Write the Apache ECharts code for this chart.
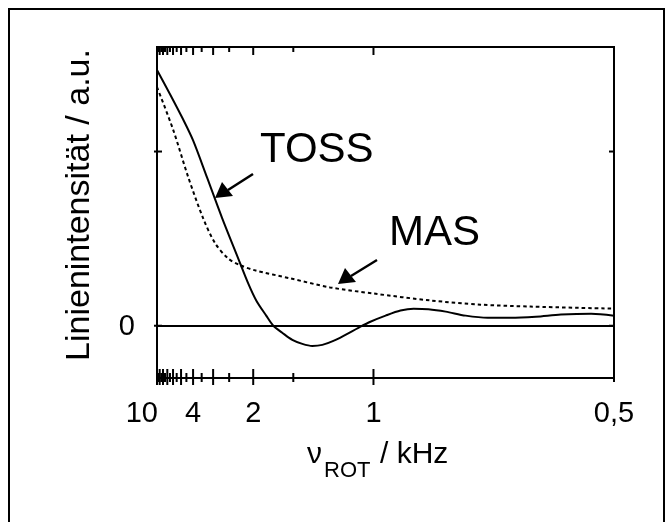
<!DOCTYPE html>
<html>
<head>
<meta charset="utf-8">
<script src="https://cdn.jsdelivr.net/npm/echarts@6/dist/echarts.min.js"></script>
<style>
  html, body { margin: 0; padding: 0; background: #fff; }
  #chart { width: 672px; height: 522px; }
</style>
</head>
<body>
<div id="chart"></div>
<script>
// Rotation frequency in kHz (plotted on a reciprocal scale) and line intensity
const tossNu = [10, 6.486, 4.8, 4.0, 3.243, 2.697, 2.286, 2.087, 1.951, 1.805, 1.714, 1.611, 1.509, 1.42, 1.341, 1.27, 1.2, 1.132, 1.067, 1.013, 0.952, 0.899, 0.857, 0.814, 0.769, 0.723, 0.678, 0.637, 0.597, 0.562, 0.525, 0.5];
const tossI  = [1.468, 1.329, 1.185, 1.064, 0.850, 0.618, 0.387, 0.243, 0.145, 0.058, 0.0, -0.040, -0.081, -0.104, -0.116, -0.110, -0.087, -0.052, -0.012, 0.023, 0.058, 0.087, 0.098, 0.095, 0.081, 0.058, 0.046, 0.046, 0.052, 0.064, 0.069, 0.058];

const masNu = [10, 6.0, 4.36, 3.43, 2.93, 2.53, 2.24, 1.97, 1.53, 1.22, 1.0, 0.808, 0.692, 0.605, 0.5];
const masI  = [1.37, 1.127, 0.855, 0.618, 0.474, 0.387, 0.347, 0.318, 0.272, 0.220, 0.185, 0.145, 0.121, 0.110, 0.098];

// Tick marks along the frequency axis (kHz) and the labelled ones
const nuTicks = [0.5, 1, 1.5, 2, 2.5, 3, 3.5, 4, 4.5, 5, 5.5, 6, 6.5, 7, 7.5, 8, 8.5, 9, 9.5, 10];
const nuLabelValues = [10, 4, 2, 1, 0.5];
const nuLabelTexts  = ['10', '4', '2', '1', '0,5'];

// Intensity ticks
const yTicks = [0, 1];
const yLabelValues = [0];
const yLabelTexts  = ['0'];

const X_MIN = 0.1, X_MAX = 2;     // 1/ν in ms
const Y_MIN = -0.3, Y_MAX = 1.6;
const FONT = "'Liberation Sans', Arial, Helvetica, sans-serif";

const chart = echarts.init(document.getElementById('chart'), null, { renderer: 'canvas' });

const toXY = (nus, vals) => nus.map((n, i) => [1 / n, vals[i]]);

const option = {
  animation: false,
  backgroundColor: '#fff',
  grid: {
    left: 157, top: 47, width: 457, height: 331,
    show: true, borderColor: '#000', borderWidth: 2, backgroundColor: 'transparent'
  },
  xAxis: {
    type: 'value', min: X_MIN, max: X_MAX,
    axisLine: { show: false }, axisTick: { show: false },
    axisLabel: { show: false }, splitLine: { show: false }
  },
  yAxis: {
    type: 'value', min: Y_MIN, max: Y_MAX,
    axisLine: { show: false }, axisTick: { show: false },
    axisLabel: { show: false }, splitLine: { show: false }
  },
  series: [
    {
      name: 'MAS', type: 'line', data: toXY(masNu, masI),
      smooth: 0.3, showSymbol: false, silent: true,
      lineStyle: { color: '#000', width: 2, type: [3.5, 3] }
    },
    {
      name: 'TOSS', type: 'line', data: toXY(tossNu, tossI),
      smooth: 0.3, showSymbol: false, silent: true,
      lineStyle: { color: '#000', width: 2 },
      markLine: {
        silent: true, symbol: ['none', 'none'],
        label: { show: false },
        lineStyle: { color: '#000', width: 2, type: 'solid' },
        data: [{ yAxis: 0 }]
      }
    },
    // frequency ticks on bottom and top edges
    {
      type: 'custom', clip: false, silent: true, z: 5,
      data: nuTicks.map(n => [1 / n, Y_MIN, n]),
      encode: { x: 0, y: 1 },
      renderItem(params, api) {
        const u = api.value(0), n = api.value(2);
        const b = api.coord([u, Y_MIN]);
        const t = api.coord([u, Y_MAX]);
        const major = Math.abs(n - Math.round(n)) < 1e-9;
        const st = { stroke: '#000', lineWidth: 2 };
        return {
          type: 'group',
          children: [
            { type: 'line', shape: { x1: b[0], y1: b[1] - (major ? 9 : 5), x2: b[0], y2: b[1] + (major ? 7 : 4) }, style: st },
            { type: 'line', shape: { x1: t[0], y1: t[1], x2: t[0], y2: t[1] + (major ? 8 : 5) }, style: st }
          ]
        };
      }
    },
    // frequency tick labels
    {
      type: 'custom', clip: false, silent: true, z: 5,
      data: nuLabelValues.map((n, i) => [1 / n, Y_MIN, i]),
      encode: { x: 0, y: 1 },
      renderItem(params, api) {
        const i = api.value(2);
        const p = api.coord([api.value(0), Y_MIN]);
        const first = i === 0;
        return {
          type: 'text',
          x: first ? p[0] + 1 : p[0],
          y: p[1] + 36,
          style: {
            text: nuLabelTexts[i], fill: '#000', font: '29px ' + FONT,
            align: first ? 'right' : 'center', verticalAlign: 'middle'
          }
        };
      }
    },
    // intensity ticks on left and right edges
    {
      type: 'custom', clip: false, silent: true, z: 5,
      data: yTicks.map(v => [X_MIN, v]),
      encode: { x: 0, y: 1 },
      renderItem(params, api) {
        const v = api.value(1);
        const l = api.coord([X_MIN, v]);
        const r = api.coord([X_MAX, v]);
        const st = { stroke: '#000', lineWidth: 2 };
        return {
          type: 'group',
          children: [
            { type: 'line', shape: { x1: l[0] - 3, y1: l[1], x2: l[0] + 5, y2: l[1] }, style: st },
            { type: 'line', shape: { x1: r[0] - 5, y1: r[1], x2: r[0], y2: r[1] }, style: st }
          ]
        };
      }
    },
    // intensity tick labels
    {
      type: 'custom', clip: false, silent: true, z: 5,
      data: yLabelValues.map((v, i) => [X_MIN, v, i]),
      encode: { x: 0, y: 1 },
      renderItem(params, api) {
        const p = api.coord([X_MIN, api.value(1)]);
        return {
          type: 'text', x: p[0] - 22, y: p[1] + 1,
          style: {
            text: yLabelTexts[api.value(2)], fill: '#000', font: '29px ' + FONT,
            align: 'right', verticalAlign: 'middle'
          }
        };
      }
    }
  ],
  graphic: [
    // outer frame
    { type: 'rect', shape: { x: 9, y: 9, width: 655, height: 530 }, style: { fill: 'none', stroke: '#000', lineWidth: 2 }, z: 0 },
    // axis titles
    {
      type: 'text', x: 80, y: 205, rotation: Math.PI / 2,
      style: { text: 'Linienintensität / a.u.', font: '34px ' + FONT, fill: '#000', align: 'center', verticalAlign: 'middle' }
    },
    { type: 'text', x: 307, y: 455, style: { text: 'ν', font: '30px ' + FONT, fill: '#000', align: 'left', verticalAlign: 'middle' } },
    { type: 'text', x: 324, y: 471, style: { text: 'ROT', font: '22px ' + FONT, fill: '#000', align: 'left', verticalAlign: 'middle' } },
    { type: 'text', x: 380, y: 455, style: { text: '/ kHz', font: '30px ' + FONT, fill: '#000', align: 'left', verticalAlign: 'middle' } },
    // curve annotations
    { type: 'text', x: 260, y: 150, style: { text: 'TOSS', font: '42px ' + FONT, fill: '#000', align: 'left', verticalAlign: 'middle' } },
    { type: 'text', x: 389, y: 233, style: { text: 'MAS', font: '42px ' + FONT, fill: '#000', align: 'left', verticalAlign: 'middle' } },
    { type: 'line', shape: { x1: 253, y1: 174, x2: 228, y2: 190 }, style: { stroke: '#000', lineWidth: 2.5 } },
    { type: 'polygon', shape: { points: [[215, 198], [222, 182], [233, 196]] }, style: { fill: '#000' } },
    { type: 'line', shape: { x1: 377, y1: 260, x2: 351, y2: 276 }, style: { stroke: '#000', lineWidth: 2.5 } },
    { type: 'polygon', shape: { points: [[338, 284], [345, 268], [356, 282]] }, style: { fill: '#000' } }
  ]
};

chart.setOption(option);
</script>
</body>
</html>
